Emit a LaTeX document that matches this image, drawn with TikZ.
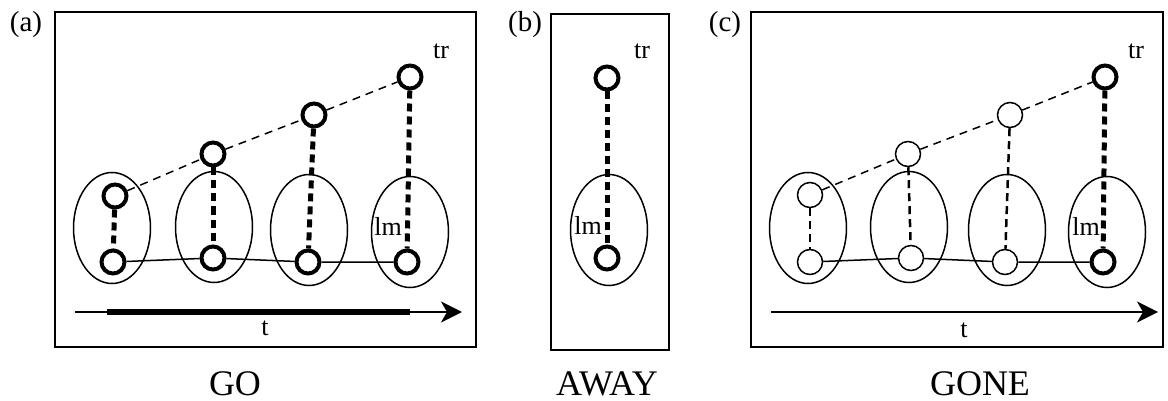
\documentclass[tikz,border=0pt]{standalone}
\usepackage{fontspec}
\setmainfont{Liberation Serif}
\usetikzlibrary{shapes.geometric,arrows.meta}
\begin{document}
\begin{tikzpicture}[x=1pt,y=-1pt,
  panel/.style={draw,line width=2pt},
  bigc/.style={circle,draw,line width=4pt,minimum size=23pt,inner sep=0pt,fill=white},
  smallc/.style={circle,draw,line width=1.5pt,minimum size=25pt,inner sep=0pt,fill=white},
  oval/.style={ellipse,draw,line width=1.5pt,minimum width=77pt,minimum height=111pt,inner sep=0pt},
  thickdash/.style={line width=5pt,dash pattern=on 8pt off 5pt},
  meddash/.style={line width=2.5pt,dash pattern=on 8pt off 5pt},
  thindash/.style={line width=1.5pt,dash pattern=on 8pt off 6pt},
  link/.style={line width=1.5pt},
  axis/.style={line width=2pt,-{Stealth[length=21pt,width=21pt,inset=6pt]}},
  lab/.style={font=\fontsize{26}{28}\selectfont,inner sep=0pt},
  tag/.style={font=\fontsize{29}{31}\selectfont,inner sep=0pt},
  title/.style={font=\fontsize{36}{38}\selectfont,inner sep=0pt}]
\useasboundingbox (0,0) rectangle (1168,401);

% ---------- panel (a)
\draw[panel] (55,12) rectangle (476,347);
\node[tag] (taga) at (26,25) {(a)};
\node[title] (go) at (235,384) {GO};
\node[oval] (ea1) at (112,228) {};
\node[oval] (ea2) at (214,227) {};
\node[oval] (ea3) at (309,230) {};
\node[oval] (ea4) at (410,232) {};
\node[bigc] (ba1) at (113,262) {};
\node[bigc] (ba2) at (213,258) {};
\node[bigc] (ba3) at (308,262) {};
\node[bigc] (ba4) at (407,262) {};
\node[bigc] (ta1) at (115,196) {};
\node[bigc] (ta2) at (213,154) {};
\node[bigc] (ta3) at (314,115) {};
\node[bigc] (ta4) at (410,77) {};
\draw[thindash] (ta1) -- (ta2) (ta2) -- (ta3) (ta3) -- (ta4);
\draw[thickdash] (ta1) -- (ba1);
\draw[thickdash] (ta2) -- (ba2);
\draw[thickdash] (ta3) -- (ba3);
\draw[thickdash] (ta4) -- (ba4);
\draw[link] (ba1) -- (ba2) (ba2) -- (ba3) (ba3) -- (ba4);
\node[lab] (tra) at (441,51) {tr};
\node[lab] (lma) at (388,226) {lm};
\coordinate (axa0) at (75,312);
\coordinate (axa1) at (462,312);
\coordinate (axaA) at (107,312);
\coordinate (axaB) at (410,312);
\draw[axis] (axa0) -- (axa1);
\draw[line width=6pt] (axaA) -- (axaB);
\node[lab] (ta) at (265,328) {t};

% ---------- panel (b)
\draw[panel] (551,14) rectangle (669,350);
\node[tag] (tagb) at (525,25) {(b)};
\node[title] (away) at (607,384) {AWAY};
\node[oval] (eb) at (609,230) {};
\node[bigc] (bb) at (607,258) {};
\node[bigc] (tb) at (607,78) {};
\draw[thickdash] (tb) -- (bb);
\node[lab] (trb) at (642,51) {tr};
\node[lab] (lmb) at (588,225) {lm};

% ---------- panel (c)
\draw[panel] (751,12) rectangle (1163,347);
\node[tag] (tagc) at (725,25) {(c)};
\node[title] (gone) at (980,384) {GONE};
\node[oval] (ec1) at (808,228) {};
\node[oval] (ec2) at (909,227) {};
\node[oval] (ec3) at (1007,230) {};
\node[oval] (ec4) at (1107,232) {};
\node[smallc] (bc1) at (810,262) {};
\node[smallc] (bc2) at (911,258) {};
\node[smallc] (bc3) at (1005,262) {};
\node[bigc] (bc4) at (1103,262) {};
\node[smallc] (tc1) at (810,195) {};
\node[smallc] (tc2) at (908,154) {};
\node[smallc] (tc3) at (1010,115) {};
\node[bigc] (tc4) at (1105,77) {};
\draw[thindash] (tc1) -- (tc2) (tc2) -- (tc3) (tc3) -- (tc4);
\draw[meddash] (tc1) -- (bc1);
\draw[meddash] (tc2) -- (bc2);
\draw[meddash] (tc3) -- (bc3);
\draw[thickdash] (tc4) -- (bc4);
\draw[link] (bc1) -- (bc2) (bc2) -- (bc3) (bc3) -- (bc4);
\node[lab] (trc) at (1136,51) {tr};
\node[lab] (lmc) at (1086,226) {lm};
\coordinate (axc0) at (771,312);
\coordinate (axc1) at (1158,312);
\draw[axis] (axc0) -- (axc1);
\node[lab] (tc) at (964,330) {t};
\end{tikzpicture}
\end{document}
